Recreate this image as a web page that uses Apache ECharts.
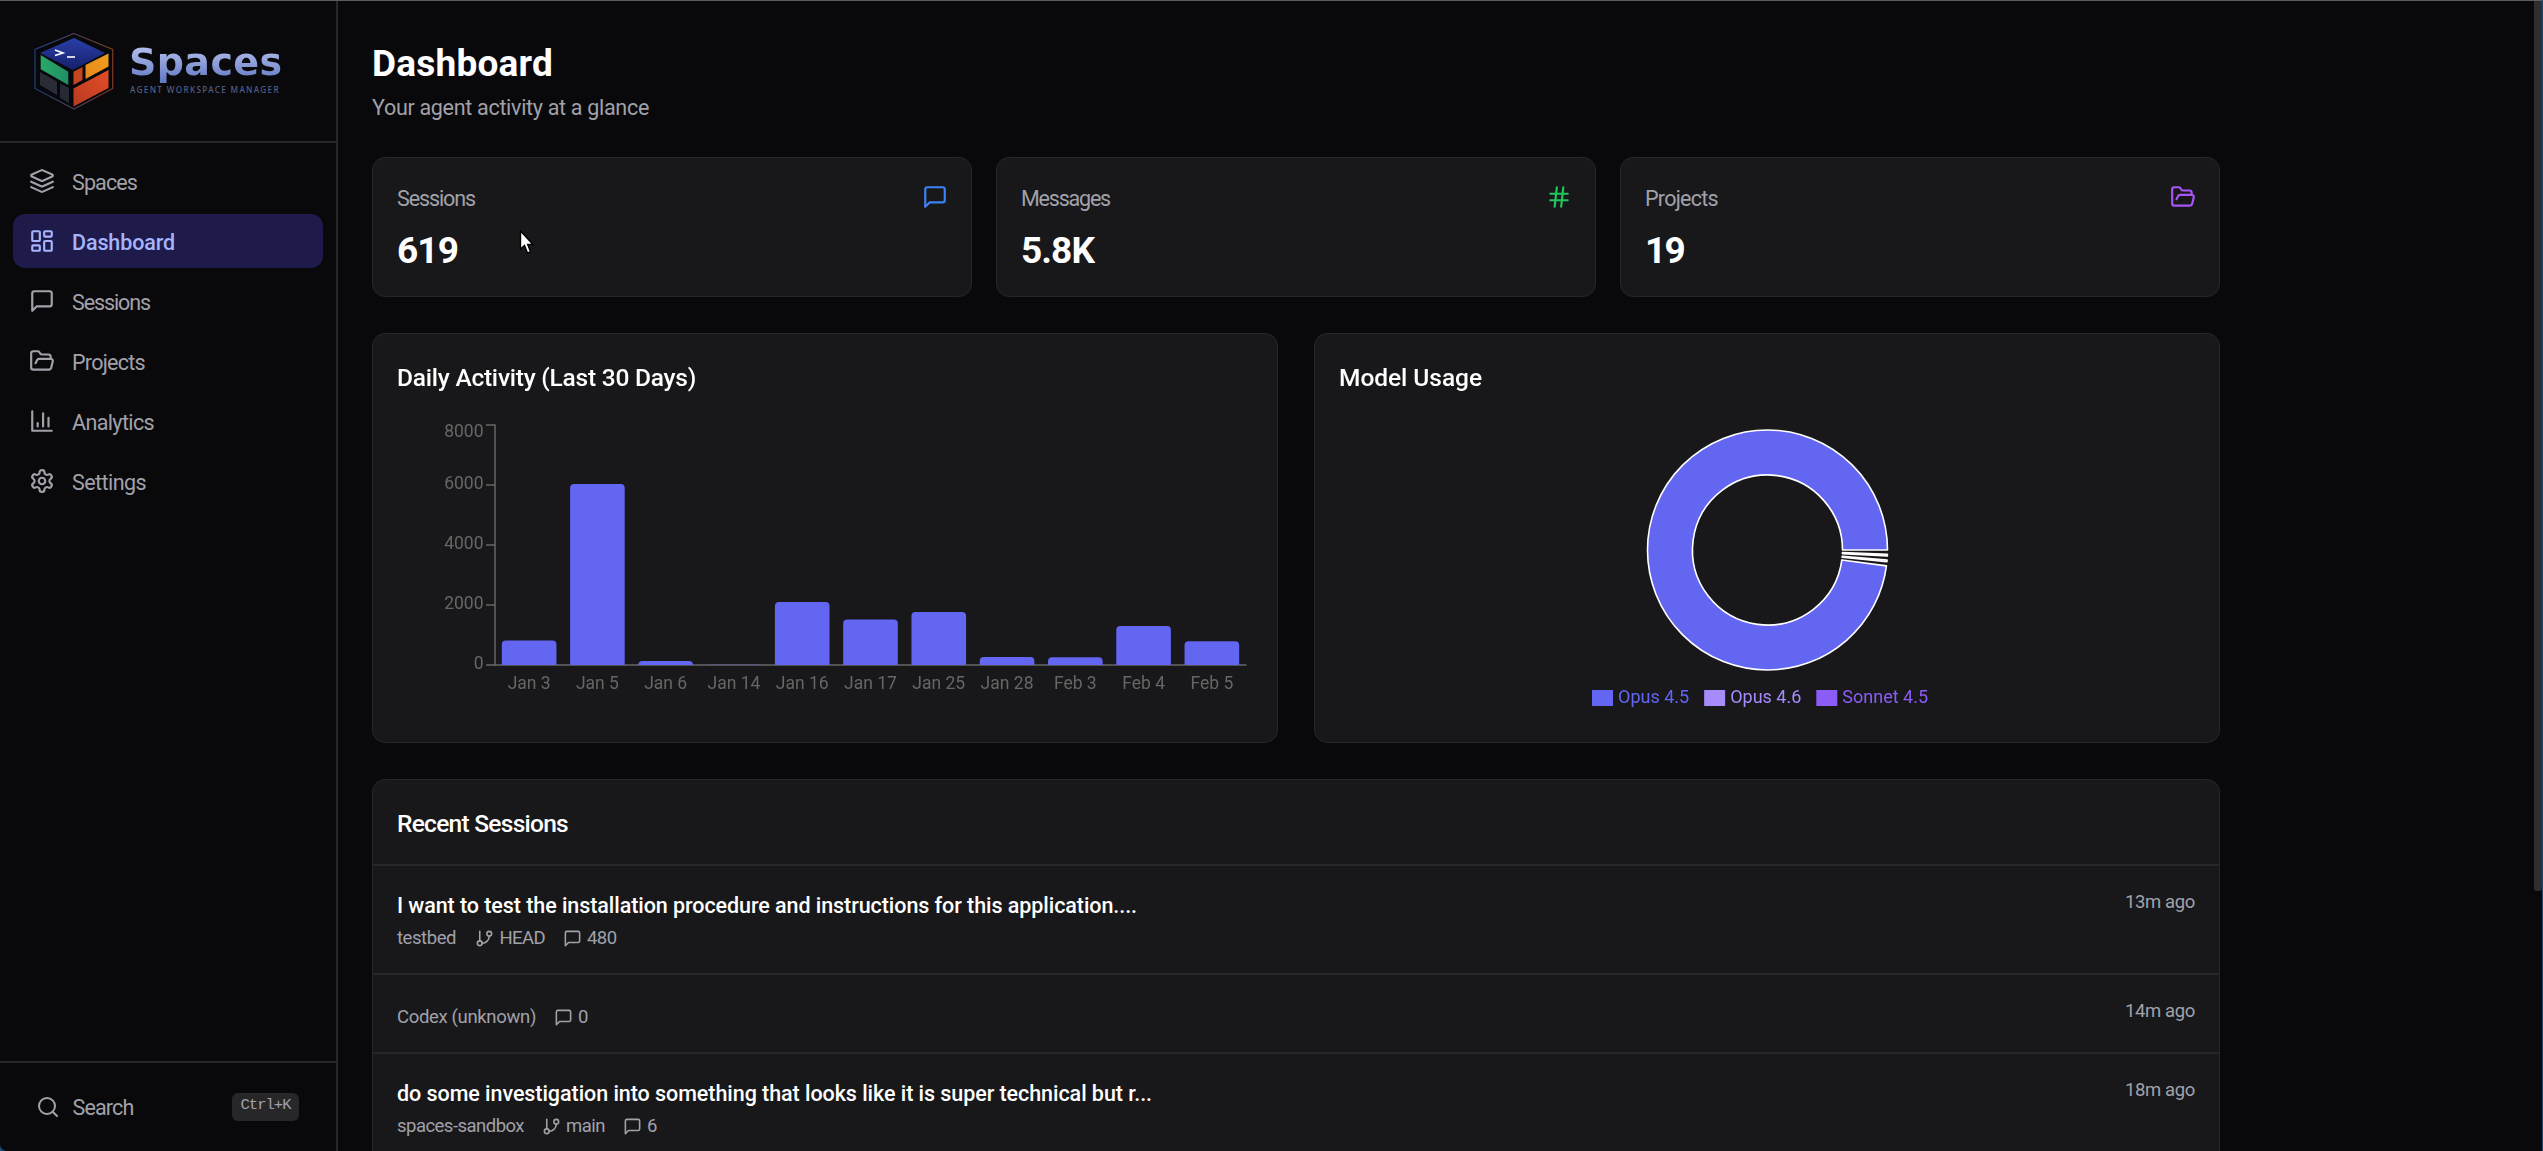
<!DOCTYPE html>
<html>
<head>
<meta charset="utf-8">
<title>Spaces Dashboard</title>
<script src="https://cdn.jsdelivr.net/npm/echarts@6/dist/echarts.min.js"></script>
<style>
html,body{margin:0;padding:0;width:2543px;height:1151px;overflow:hidden;background:#1d4a72;font-family:Roboto,sans-serif;}
#app{position:absolute;left:0;top:0;width:2542px;height:1151px;background:#09090b;overflow:hidden;border-bottom-left-radius:7px;}
.box{position:absolute;box-sizing:border-box;}
.card{position:absolute;box-sizing:border-box;background:#18181b;border:1.5px solid #27272a;border-radius:13px;}
.t{position:absolute;white-space:nowrap;line-height:1;}
svg.ic{position:absolute;fill:none;stroke-width:2;stroke-linecap:round;stroke-linejoin:round;}
#topline{position:absolute;left:0;top:0;width:100%;height:1px;background:#5c5c5c;}
</style>
</head>
<body>
<div id="app">
	<div class="box" style="left:336px;top:0;width:1.5px;height:1151px;background:#27272a"></div>
	<div class="box" style="left:0;top:141px;width:336px;height:1.5px;background:#27272a"></div>
	<div class="box" style="left:0;top:1061px;width:336px;height:1.5px;background:#27272a"></div>
	<div class="box" style="left:12.5px;top:214px;width:310px;height:54px;background:#1e1b4b;border-radius:12px"></div>

	<svg class="box" style="left:30px;top:28px" width="90" height="86" viewBox="30 28 90 86">
		<defs>
			<linearGradient id="gTop" x1="0" y1="0" x2="0" y2="1"><stop offset="0" stop-color="#2b3fa8"/><stop offset="1" stop-color="#151f6b"/></linearGradient>
			<linearGradient id="gGreen" x1="0" y1="0" x2="1" y2="0"><stop offset="0" stop-color="#2aa868"/><stop offset="1" stop-color="#1f8f63"/></linearGradient>
			<linearGradient id="gOrange" x1="0" y1="1" x2="1" y2="0"><stop offset="0" stop-color="#e8861c"/><stop offset="1" stop-color="#f0a01e"/></linearGradient>
			<linearGradient id="gRed" x1="0" y1="1" x2="1" y2="0"><stop offset="0" stop-color="#b93a22"/><stop offset="1" stop-color="#e24e26"/></linearGradient>
			<linearGradient id="gEdge" x1="0" y1="0" x2="1" y2="0"><stop offset="0" stop-color="#1c3f7a"/><stop offset="1" stop-color="#7a3a22"/></linearGradient>
		</defs>
		<polygon points="74,33.5 112.7,49.5 112.7,88.5 74,109 35,88.5 35,49.5" fill="#07080c" stroke="url(#gEdge)" stroke-width="1.2"/>
		<polygon points="74,38 105,53 73,70 40,53" fill="url(#gTop)"/>
		<polygon points="40.7,55 68.3,71.7 68.3,85 40.7,69.3" fill="url(#gGreen)"/>
		<polygon points="40,72 57,81.5 57,95 40,85" fill="#2a2d38"/>
		<polygon points="60,83.5 69,88 69,103 60,98" fill="#262a36"/>
		<polygon points="73.5,71.7 82.5,67 82.5,80 73.5,85" fill="#c4461f"/>
		<polygon points="85.5,65 108.5,53.5 108.5,66.5 85.5,79" fill="url(#gOrange)"/>
		<polygon points="73.5,88.5 108.5,70 108.5,88 73.5,106.5" fill="url(#gRed)"/>
		<polyline points="55,50 63,53 55,55.5" fill="none" stroke="#fff" stroke-width="1.6"/>
		<line x1="67" y1="57" x2="75" y2="57" stroke="#fff" stroke-width="1.6"/>
	</svg>
	<div id="logoName" class="t" style="left:129px;top:34px;font-family:'DejaVu Sans';font-size:38px;font-weight:700;letter-spacing:0.4px;background:linear-gradient(#b0bdeb 25%,#6478c4 85%);-webkit-background-clip:text;background-clip:text;color:transparent;line-height:56px">Spaces</div>

	<div class="card" style="left:372px;top:157px;width:600px;height:140px"></div>
	<div class="card" style="left:996px;top:157px;width:600px;height:140px"></div>
	<div class="card" style="left:1620px;top:157px;width:600px;height:140px"></div>
	<div class="card" style="left:372px;top:333px;width:906px;height:410px"></div>
	<div class="card" style="left:1314px;top:333px;width:906px;height:410px"></div>
	<div class="card" style="left:372px;top:779px;width:1848px;height:400px"></div>
	<div class="box" style="left:373px;top:864px;width:1846px;height:1.5px;background:#27272a"></div>
	<div class="box" style="left:373px;top:973px;width:1846px;height:1.5px;background:#27272a"></div>
	<div class="box" style="left:373px;top:1052px;width:1846px;height:1.5px;background:#27272a"></div>

	<div id="chartActivity" class="box" style="left:372px;top:333px;width:906px;height:410px"></div>
	<div id="chartModel" class="box" style="left:1314px;top:333px;width:906px;height:410px"></div>

	<!-- scrollbar -->
	<div class="box" style="left:2534px;top:1px;width:8px;height:890px;background:#2e2e31;border-radius:0 0 3px 3px"></div>
	<!-- cursor -->
	<svg class="box" style="left:519px;top:230px" width="16" height="25" viewBox="0 0 16 25"><path d="M1.5 1 L1.5 19 L5.5 15.5 L8.5 23 L11.5 21.8 L8.7 14.5 L14 14.5 Z" fill="#fff" stroke="#000" stroke-width="1.4"/></svg>
	<div id="topline"></div>
</div>
<script type="text/javascript">
// chart values
var activityDays = ['Jan 3','Jan 5','Jan 6','Jan 14','Jan 16','Jan 17','Jan 25','Jan 28','Feb 3','Feb 4','Feb 5'];
var activityValues = [820,6030,130,10,2100,1520,1770,270,255,1300,790];
var modelNames = ['Opus 4.5','Opus 4.6','Sonnet 4.5'];
var modelValues = [99.5,0.25,0.25];
var modelColors = ['#6366f1','#a78bfa','#8b5cf6'];

var ICONS = {
	layers:'<path d="m12.83 2.18a2 2 0 0 0-1.66 0L2.6 6.08a1 1 0 0 0 0 1.83l8.58 3.91a2 2 0 0 0 1.66 0l8.58-3.9a1 1 0 0 0 0-1.83Z"/><path d="m22 17.65-9.17 4.16a2 2 0 0 1-1.66 0L2 17.65"/><path d="m22 12.65-9.17 4.16a2 2 0 0 1-1.66 0L2 12.65"/>',
	dashboard:'<rect width="7" height="9" x="3" y="3" rx="1"/><rect width="7" height="5" x="14" y="3" rx="1"/><rect width="7" height="9" x="14" y="12" rx="1"/><rect width="7" height="5" x="3" y="16" rx="1"/>',
	message:'<path d="M21 15a2 2 0 0 1-2 2H7l-4 4V5a2 2 0 0 1 2-2h14a2 2 0 0 1 2 2z"/>',
	folder:'<path d="m6 14 1.5-2.9A2 2 0 0 1 9.24 10H20a2 2 0 0 1 1.94 2.5l-1.54 6a2 2 0 0 1-1.95 1.5H4a2 2 0 0 1-2-2V5a2 2 0 0 1 2-2h3.9a2 2 0 0 1 1.69.9l.81 1.2a2 2 0 0 0 1.67.9H18a2 2 0 0 1 2 2v2"/>',
	bars:'<path d="M3 3v18h18"/><path d="M18 17V9"/><path d="M13 17V5"/><path d="M8 17v-3"/>',
	gear:'<path d="M12.22 2h-.44a2 2 0 0 0-2 2v.18a2 2 0 0 1-1 1.73l-.43.25a2 2 0 0 1-2 0l-.15-.08a2 2 0 0 0-2.73.73l-.22.38a2 2 0 0 0 .73 2.73l.15.1a2 2 0 0 1 1 1.72v.51a2 2 0 0 1-1 1.74l-.15.09a2 2 0 0 0-.73 2.73l.22.38a2 2 0 0 0 2.73.73l.15-.08a2 2 0 0 1 2 0l.43.25a2 2 0 0 1 1 1.73V20a2 2 0 0 0 2 2h.44a2 2 0 0 0 2-2v-.18a2 2 0 0 1 1-1.73l.43-.25a2 2 0 0 1 2 0l.15.08a2 2 0 0 0 2.73-.73l.22-.39a2 2 0 0 0-.73-2.73l-.15-.08a2 2 0 0 1-1-1.74v-.5a2 2 0 0 1 1-1.74l.15-.09a2 2 0 0 0 .73-2.73l-.22-.38a2 2 0 0 0-2.73-.73l-.15.08a2 2 0 0 1-2 0l-.43-.25a2 2 0 0 1-1-1.73V4a2 2 0 0 0-2-2z"/><circle cx="12" cy="12" r="3"/>',
	search:'<circle cx="11" cy="11" r="8"/><path d="m21 21-4.3-4.3"/>',
	hash:'<line x1="4" x2="20" y1="9" y2="9"/><line x1="4" x2="20" y1="15" y2="15"/><line x1="10" x2="8" y1="3" y2="21"/><line x1="16" x2="14" y1="3" y2="21"/>',
	branch:'<line x1="6" x2="6" y1="3" y2="15"/><circle cx="18" cy="6" r="3"/><circle cx="6" cy="18" r="3"/><path d="M18 9a9 9 0 0 1-9 9"/>'
};

var app = document.getElementById('app');

// x = left edge, y = baseline, w = width in the reference (letter spacing makes up the rest)
function label(str, x, y, w, size, color, weight, family) {
	var el = document.createElement('div');
	el.className = 't';
	el.textContent = str;
	el.style.left = x + 'px';
	el.style.top = (y - size * 0.842) + 'px';
	el.style.fontSize = size + 'px';
	el.style.color = color;
	el.style.fontWeight = weight || 400;
	if (family) el.style.fontFamily = family;
	app.appendChild(el);
	if (w) {
		var have = el.getBoundingClientRect().width;
		el.style.letterSpacing = ((w - have) / str.length) + 'px';
	}
	return el;
}
function icon(name, cx, cy, size, color) {
	var ns = 'http://www.w3.org/2000/svg';
	var el = document.createElementNS(ns, 'svg');
	el.setAttribute('class', 'ic');
	el.setAttribute('viewBox', '0 0 24 24');
	el.setAttribute('width', size);
	el.setAttribute('height', size);
	el.style.left = (cx - size / 2) + 'px';
	el.style.top = (cy - size / 2) + 'px';
	el.style.stroke = color;
	el.innerHTML = ICONS[name];
	app.appendChild(el);
}

// sidebar
label('AGENT WORKSPACE MANAGER', 130, 92.5, 150, 8.2, '#535f85', 500, '"Noto Sans"');

var NAV_GREY = '#a1a1aa';
icon('layers', 42, 181, 26, NAV_GREY); label('Spaces', 72, 190, 65, 21.5, NAV_GREY);
icon('dashboard', 42, 241, 26, '#a5b4fc'); label('Dashboard', 72, 250, 103, 21.5, '#a5b4fc', 500);
icon('message', 42, 301, 26, NAV_GREY); label('Sessions', 72, 310, 78, 21.5, NAV_GREY);
icon('folder', 42, 361, 26, NAV_GREY); label('Projects', 72, 370, 73, 21.5, NAV_GREY);
icon('bars', 42, 421, 26, NAV_GREY); label('Analytics', 72, 430, 82, 21.5, NAV_GREY);
icon('gear', 42, 481, 26, NAV_GREY); label('Settings', 72, 490, 74, 21.5, NAV_GREY);

icon('search', 47.5, 1107, 24, NAV_GREY);
label('Search', 72.5, 1115, 61, 21.5, NAV_GREY);
var kbd = document.createElement('div');
kbd.className = 'box';
kbd.style.cssText = 'left:232px;top:1093px;width:67px;height:28px;background:#27272a;border-radius:6px';
app.appendChild(kbd);
label('Ctrl+K', 240.5, 1111, 50, 15.5, '#a1a1aa', 400, '"Liberation Mono",monospace');

// header
label('Dashboard', 372, 76, 181, 37, '#ffffff', 700);
label('Your agent activity at a glance', 372, 115, 277, 21.5, '#a1a1aa');

// stat cards
label('Sessions', 397, 206, 78, 21.5, '#a1a1aa');
label('619', 397, 263, 61, 37, '#ffffff', 700);
icon('message', 935, 197, 26, '#3b82f6');
label('Messages', 1021, 206, 89, 21.5, '#a1a1aa');
label('5.8K', 1021, 263, 73, 37, '#ffffff', 700);
icon('hash', 1559, 197, 26, '#22c55e');
label('Projects', 1645, 206, 73, 21.5, '#a1a1aa');
label('19', 1645, 263, 39, 37, '#ffffff', 700);
icon('folder', 2183, 197, 26, '#a855f7');

// chart titles
label('Daily Activity (Last 30 Days)', 397, 387, 299, 24.5, '#ffffff', 500);
label('Model Usage', 1339, 387, 143, 24.5, '#ffffff', 500);

// recent sessions
var META = '#a1a1aa';
label('Recent Sessions', 397, 833, 171, 24.5, '#ffffff', 500);
label('I want to test the installation procedure and instructions for this application....', 397, 913, 740, 21.5, '#ffffff', 500);
label('testbed', 397, 944.5, 59, 18.5, META);
icon('branch', 484, 938, 19, META); label('HEAD', 499.5, 944.5, 45.5, 18.5, META);
icon('message', 572.5, 938, 19, META); label('480', 587, 944.5, 29.5, 18.5, META);
label('Codex (unknown)', 397, 1023.5, 139, 18.5, META);
icon('message', 563, 1017, 19, META); label('0', 578, 1023.5, 0, 18.5, META);
label('do some investigation into something that looks like it is super technical but r...', 397, 1101, 755, 21.5, '#ffffff', 500);
label('spaces-sandbox', 397, 1132.5, 127, 18.5, META);
icon('branch', 551, 1126, 19, META); label('main', 566, 1132.5, 39, 18.5, META);
icon('message', 632, 1126, 19, META); label('6', 647, 1132.5, 0, 18.5, META);
label('13m ago', 2125, 909, 70, 18.5, META);
label('14m ago', 2125, 1018, 70, 18.5, META);
label('18m ago', 2125, 1097, 70, 18.5, META);

// daily activity bars
var activityChart = echarts.init(document.getElementById('chartActivity'));
activityChart.setOption({
	animation: false,
	backgroundColor: 'transparent',
	grid: { left: 123, top: 92, width: 751, height: 240 },
	xAxis: {
		type: 'category',
		data: activityDays,
		axisLine: { lineStyle: { color: '#666', width: 1.5 } },
		axisTick: { alignWithLabel: true, length: 9, lineStyle: { color: '#666', width: 1.5 } },
		axisLabel: { interval: 0, margin: 11, color: '#666', fontSize: 17.5, fontFamily: 'Roboto' }
	},
	yAxis: {
		type: 'value',
		min: 0,
		max: 8000,
		interval: 2000,
		splitLine: { show: false },
		axisLine: { show: true, lineStyle: { color: '#666', width: 1.5 } },
		axisTick: { show: true, length: 9, lineStyle: { color: '#666', width: 1.5 } },
		axisLabel: {
			margin: 11.5,
			color: '#666',
			fontSize: 17.5,
			fontFamily: 'Roboto',
			lineHeight: 12,
			padding: [2, 0, 0, 0],
			verticalAlignMaxLabel: 'top',
			formatter: function (v) { return String(v); }
		}
	},
	series: [{
		type: 'bar',
		data: activityValues,
		barWidth: '80%',
		itemStyle: { color: '#6366f1', borderRadius: [4, 4, 0, 0] }
	}]
});

// model usage donut
var modelChart = echarts.init(document.getElementById('chartModel'));
var modelData = [];
for (var i = 0; i < modelNames.length; i++) {
	modelData.push({ name: modelNames[i], value: modelValues[i], itemStyle: { color: modelColors[i] } });
}
var legendData = [];
for (var j = 0; j < modelNames.length; j++) {
	legendData.push({ name: modelNames[j], textStyle: { color: modelColors[j] } });
}
modelChart.setOption({
	animation: false,
	backgroundColor: 'transparent',
	legend: {
		left: 278,
		top: 356,
		icon: 'rect',
		itemWidth: 21,
		itemHeight: 16,
		itemGap: 15,
		padding: 0,
		itemStyle: { borderWidth: 0 },
		textStyle: { fontSize: 18, fontFamily: 'Roboto' },
		data: legendData
	},
	series: [{
		type: 'pie',
		center: [453.5, 217],
		radius: [75, 120],
		startAngle: -1,
		clockwise: false,
		padAngle: 2,
		minAngle: 0.8,
		label: { show: false },
		labelLine: { show: false },
		emphasis: { disabled: true },
		itemStyle: { borderColor: '#fff', borderWidth: 1.6 },
		data: modelData
	}]
});

window.onresize = function () {
	activityChart.resize();
	modelChart.resize();
};
</script>
</body>
</html>
